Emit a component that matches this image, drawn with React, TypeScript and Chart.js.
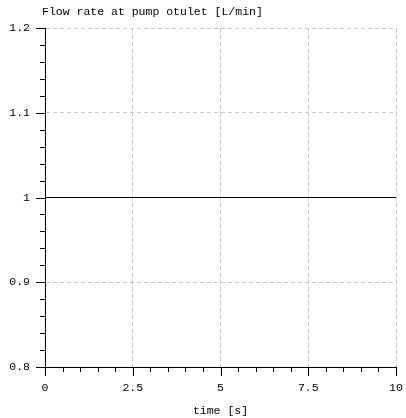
import React, { useEffect, useRef } from "react";
import { Chart, registerables } from "chart.js";

Chart.register(...registerables);

const times = [0, 10];
const flowRate = [1, 1];
const xTicks = [0, 2.5, 5, 7.5, 10];
const yTicks = [0.8, 0.9, 1.0, 1.1, 1.2];
const xMinorStep = 0.5;
const yMinorStep = 0.02;
const titleText = "Flow rate at pump otulet [L/min]";
const xTitle = "time [s]";

const FONT = "'Liberation Mono', 'DejaVu Sans Mono', monospace";
const FONT_SIZE = 11.5;

const tickPlugin = {
  id: "customTicks",
  afterDraw(chart: any) {
    const ctx = chart.ctx;
    const xs = chart.scales.x;
    const ys = chart.scales.y;
    const area = chart.chartArea;
    ctx.save();
    ctx.strokeStyle = "#000";
    ctx.lineWidth = 1;
    ctx.setLineDash([]);
    const xMin = xs.min, xMax = xs.max;
    const nx = Math.round((xMax - xMin) / xMinorStep);
    for (let i = 0; i <= nx; i++) {
      const v = xMin + i * xMinorStep;
      const major = xTicks.some((t) => Math.abs(t - v) < 1e-6);
      const px = Math.round(xs.getPixelForValue(v)) + 0.5;
      ctx.beginPath();
      ctx.moveTo(px, area.bottom);
      ctx.lineTo(px, area.bottom + (major ? 9 : 5));
      ctx.stroke();
    }
    const yMin = ys.min, yMax = ys.max;
    const ny = Math.round((yMax - yMin) / yMinorStep);
    for (let i = 0; i <= ny; i++) {
      const v = yMin + i * yMinorStep;
      const major = yTicks.some((t) => Math.abs(t - v) < 1e-6);
      const py = Math.round(ys.getPixelForValue(v)) + 0.5;
      ctx.beginPath();
      ctx.moveTo(area.left, py);
      ctx.lineTo(area.left - (major ? 9 : 5), py);
      ctx.stroke();
    }
    ctx.fillStyle = "#000";
    ctx.font = `${FONT_SIZE}px ${FONT}`;
    ctx.textAlign = "left";
    ctx.textBaseline = "middle";
    ctx.fillText(titleText, 42, 12);
    ctx.restore();
  },
};

export default function App() {
  const ref = useRef<HTMLCanvasElement>(null);
  useEffect(() => {
    document.body.style.margin = "0";
    const c = ref.current!;
    const chart = new Chart(c, {
      type: "line",
      data: {
        datasets: [
          {
            data: times.map((t, i) => ({ x: t, y: flowRate[i] })),
            borderColor: "#000",
            borderWidth: 1,
            pointRadius: 0,
            fill: false,
          },
        ],
      },
      options: {
        animation: false,
        responsive: false,
        maintainAspectRatio: false,
        layout: { padding: { left: 0, top: 28, right: 10, bottom: 0 } },
        plugins: {
          legend: { display: false },
          tooltip: { enabled: false },
          title: { display: false },
        },
        scales: {
          x: {
            type: "linear",
            min: 0,
            max: 10,
            afterBuildTicks: (s: any) => {
              s.ticks = xTicks.map((v) => ({ value: v }));
            },
            afterFit: (s: any) => {
              s.height = 51;
              s.paddingLeft = 0;
              s.paddingRight = 0;
            },
            grid: {
              color: "#c8c8c8",
              lineWidth: 1,
              drawTicks: false,
            },
            border: { display: true, color: "#000", width: 1, dash: [4, 3] },
            ticks: {
              color: "#000",
              font: { family: FONT, size: FONT_SIZE },
              padding: 14,
              maxRotation: 0,
              callback: (v: any) => String(v),
            },
            title: {
              display: true,
              text: xTitle,
              color: "#000",
              font: { family: FONT, size: FONT_SIZE },
              padding: { top: 8, bottom: 0 },
            },
          },
          y: {
            type: "linear",
            min: 0.8,
            max: 1.2,
            afterBuildTicks: (s: any) => {
              s.ticks = yTicks.map((v) => ({ value: v }));
            },
            afterFit: (s: any) => {
              s.width = 45;
              s.paddingTop = 0;
              s.paddingBottom = 0;
            },
            grid: {
              color: "#c8c8c8",
              lineWidth: 1,
              drawTicks: false,
            },
            border: { display: true, color: "#000", width: 1, dash: [4, 3] },
            ticks: {
              color: "#000",
              font: { family: FONT, size: FONT_SIZE },
              padding: 15,
              callback: (v: any) => String(Math.round(v * 10) / 10),
            },
          },
        },
      },
      plugins: [tickPlugin],
    } as any);
    return () => chart.destroy();
  }, []);
  return (
    <div style={{ width: 406, height: 418 }}>
      <canvas ref={ref} width={406} height={418} style={{ display: "block" }} />
    </div>
  );
}
